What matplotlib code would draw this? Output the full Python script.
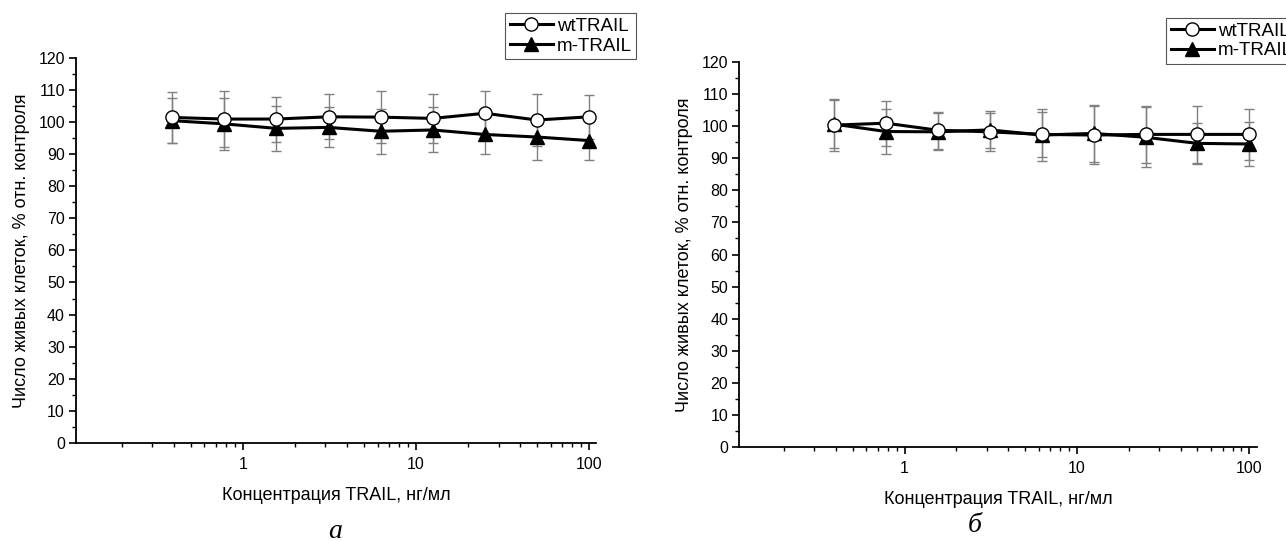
import numpy as np
import matplotlib
matplotlib.use('Agg')
import matplotlib.pyplot as plt
from matplotlib.ticker import LogLocator, NullFormatter, MultipleLocator

plt.rcParams['font.family'] = ['Liberation Sans', 'DejaVu Sans']

# concentrations, ng/ml
conc = [0.39, 0.78, 1.56, 3.125, 6.25, 12.5, 25, 50, 100]

# panel a
wt_a = [101.4, 100.9, 100.9, 101.6, 101.5, 101.1, 102.7, 100.6, 101.6]
wt_a_err = [8.0, 8.8, 7.0, 7.0, 8.0, 7.7, 7.0, 8.0, 6.8]
m_a = [100.4, 99.4, 98.0, 98.3, 97.1, 97.5, 96.1, 95.3, 94.2]
m_a_err = [7.0, 8.0, 7.0, 6.2, 7.0, 7.0, 6.0, 7.0, 6.0]

# panel b
wt_b = [100.4, 101.0, 98.8, 98.3, 97.5, 97.3, 97.5, 97.5, 97.5]
wt_b_err = [8.0, 7.0, 5.8, 6.0, 7.0, 9.0, 8.8, 8.8, 8.0]
m_b = [100.7, 98.4, 98.3, 98.9, 97.3, 97.8, 96.6, 94.7, 94.5]
m_b_err = [7.5, 7.0, 5.8, 5.8, 8.0, 8.8, 9.3, 6.5, 7.0]

xlabel = 'Концентрация TRAIL, нг/мл'
ylabel = 'Число живых клеток, % отн. контроля'

fig = plt.figure(figsize=(12.86, 5.41), dpi=100)
ax_a = fig.add_axes([0.0591, 0.1811, 0.4044, 0.7122])
ax_b = fig.add_axes([0.5749, 0.1743, 0.4023, 0.7105])


def draw_panel(ax, wt, wt_err, m, m_err, xlim):
    ax.errorbar(conc, wt, yerr=wt_err, fmt='none', ecolor='#808080',
                elinewidth=1.0, capsize=3.5, capthick=1.0, zorder=1)
    ax.errorbar(conc, m, yerr=m_err, fmt='none', ecolor='#808080',
                elinewidth=1.0, capsize=3.5, capthick=1.0, zorder=1)
    ax.plot(conc, m, '-^', color='black', lw=2.2, ms=10,
            mfc='black', mec='black', label='m-TRAIL', zorder=3)
    ax.plot(conc, wt, '-o', color='black', lw=2.2, ms=9.5,
            mfc='white', mec='black', mew=1.0, label='wtTRAIL', zorder=4)
    ax.set_xscale('log')
    ax.set_xlim(*xlim)
    ax.set_ylim(0, 120)
    ax.set_xticks([1, 10, 100])
    ax.set_xticklabels(['1', '10', '100'])
    ax.xaxis.set_minor_locator(LogLocator(base=10, subs=np.arange(2, 10)))
    ax.xaxis.set_minor_formatter(NullFormatter())
    ax.yaxis.set_major_locator(MultipleLocator(10))
    ax.yaxis.set_minor_locator(MultipleLocator(5))
    ax.spines['top'].set_visible(False)
    ax.spines['right'].set_visible(False)
    for s in ['left', 'bottom']:
        ax.spines[s].set_linewidth(1.3)
    ax.tick_params(which='major', direction='out', length=5, width=1.2,
                   labelsize=11.5, pad=3)
    ax.tick_params(which='minor', direction='out', length=3, width=1.0)
    ax.tick_params(axis='x', which='major', pad=5)
    ax.set_xlabel(xlabel, fontsize=13, labelpad=11)
    ax.set_ylabel(ylabel, fontsize=13, labelpad=6)


draw_panel(ax_a, wt_a, wt_a_err, m_a, m_a_err, (0.1087, 109.7))
draw_panel(ax_b, wt_b, wt_b_err, m_b, m_b_err, (0.110, 110.4))

for ax, anchor in [(ax_a, (505 / 1286, 1 - 13 / 541)),
                   (ax_b, (1166 / 1286, 1 - 17.7 / 541))]:
    h, l = ax.get_legend_handles_labels()
    leg = fig.legend(h[::-1], l[::-1], loc='upper left', bbox_to_anchor=anchor,
                     fontsize=13.5, frameon=True, fancybox=False,
                     edgecolor='#555555', framealpha=1, borderpad=0.25,
                     labelspacing=0.15, handlelength=2.3, handletextpad=0.2,
                     borderaxespad=0)
    leg.get_frame().set_linewidth(0.8)

fig.text(335 / 1286, 1 - 531 / 541, 'а', fontsize=20, style='italic',
         family='Liberation Serif', ha='center', va='center')
fig.text(975 / 1286, 1 - 526 / 541, 'б', fontsize=20, style='italic',
         family='Liberation Serif', ha='center', va='center')

plt.savefig('out.png', dpi=100)
